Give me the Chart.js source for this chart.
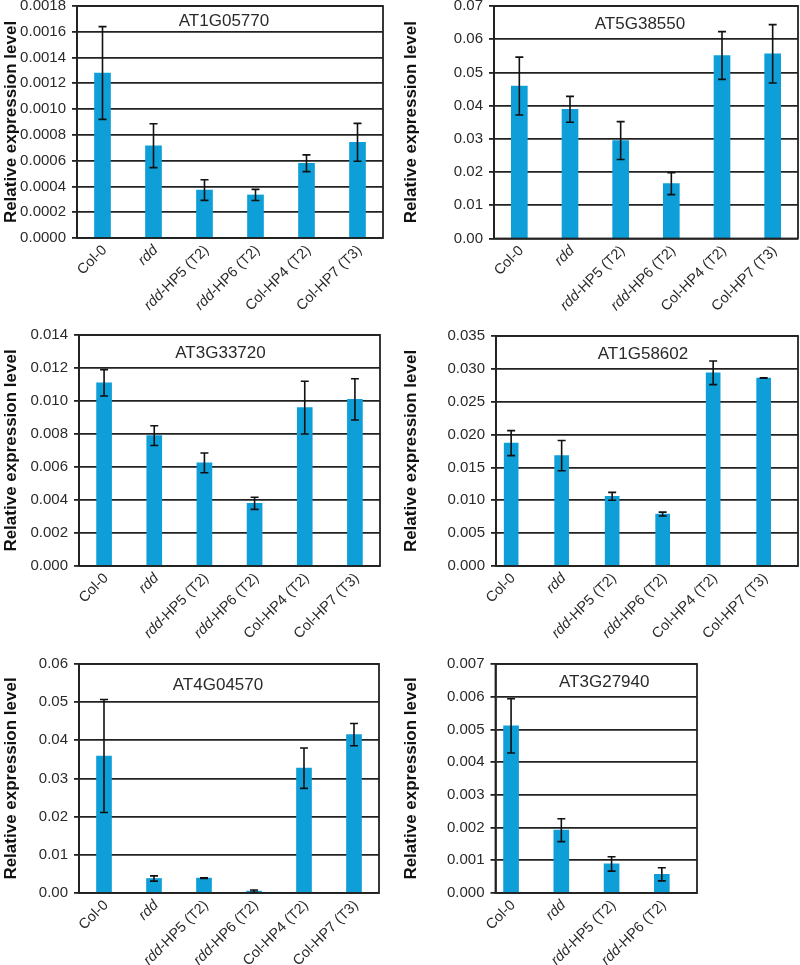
<!DOCTYPE html>
<html>
<head>
<meta charset="utf-8">
<script src="https://cdn.jsdelivr.net/npm/chart.js@4.4.1/dist/chart.umd.min.js"></script>
<style>
  html, body { margin: 0; padding: 0; background: #ffffff; }
  body { width: 800px; height: 965px; position: relative; overflow: hidden; }
  canvas { position: absolute; }
</style>
</head>
<body>
<script>
// ---------------- DATA ----------------
const categories6 = ['Col-0', 'rdd', 'rdd-HP5 (T2)', 'rdd-HP6 (T2)', 'Col-HP4 (T2)', 'Col-HP7 (T3)'];
const categories4 = ['Col-0', 'rdd', 'rdd-HP5 (T2)', 'rdd-HP6 (T2)'];
const italicPrefix = 'rdd';

const genes = ['AT1G05770', 'AT5G38550', 'AT3G33720', 'AT1G58602', 'AT4G04570', 'AT3G27940'];

const at1g05770    = [0.00128, 0.000716, 0.000372, 0.000334, 0.00058, 0.000742];
const at1g05770Err = [0.00036, 0.00017, 0.00008, 0.000043, 0.000065, 0.000147];

const at5g38550    = [0.0459, 0.0389, 0.0295, 0.0165, 0.0551, 0.0556];
const at5g38550Err = [0.0087, 0.0039, 0.0057, 0.0033, 0.0072, 0.0088];

const at3g33720    = [0.0111, 0.0079, 0.00625, 0.0038, 0.0096, 0.0101];
const at3g33720Err = [0.0008, 0.0006, 0.0006, 0.00037, 0.0016, 0.00125];

const at1g58602    = [0.0187, 0.0168, 0.0106, 0.0079, 0.0294, 0.0286];
const at1g58602Err = [0.0019, 0.0023, 0.0006, 0.0003, 0.0018, 0.00003];

const at4g04570    = [0.0359, 0.0038, 0.0039, 0.0005, 0.0327, 0.0415];
const at4g04570Err = [0.0148, 0.0007, 0.0001, 0.0003, 0.0053, 0.0029];

const at3g27940    = [0.00511, 0.00192, 0.00089, 0.00057];
const at3g27940Err = [0.00083, 0.00035, 0.00022, 0.0002];

// y axis: [max, step, decimals]
const yAxis1 = [0.0018, 0.0002, 4];
const yAxis2 = [0.07, 0.01, 2];
const yAxis3 = [0.014, 0.002, 3];
const yAxis4 = [0.035, 0.005, 3];
const yAxis5 = [0.06, 0.01, 2];
const yAxis6 = [0.007, 0.001, 3];

// ---------------- LAYOUT / STYLE ----------------
const FONT = '"Liberation Sans", Arial, Helvetica, sans-serif';
const BAR_COLOR = '#0e9fd9';
const LINE_COLOR = '#222222';
const TEXT_COLOR = '#2a2a2a';

const panels = [
  { gene: genes[0], cats: categories6, values: at1g05770, errors: at1g05770Err, y: yAxis1,
    box: [0, -12, 400, 332], area: [77, 6, 383, 238], xRange: [-0.5, 5.5], bar: 16, titleDx: -6 },
  { gene: genes[1], cats: categories6, values: at5g38550, errors: at5g38550Err, y: yAxis2,
    box: [400, -12, 400, 332], area: [494, 6, 798, 238.5], xRange: [-0.5, 5.5], bar: 16, titleDx: -6 },
  { gene: genes[2], cats: categories6, values: at3g33720, errors: at3g33720Err, y: yAxis3,
    box: [0, 320, 400, 320], area: [79, 335, 380, 566], xRange: [-0.5, 5.5], bar: 15, titleDx: -9 },
  { gene: genes[3], cats: categories6, values: at1g58602, errors: at1g58602Err, y: yAxis4,
    box: [400, 320, 400, 320], area: [496, 336, 798, 566], xRange: [-0.3, 5.68], bar: 14, titleDx: -4 },
  { gene: genes[4], cats: categories6, values: at4g04570, errors: at4g04570Err, y: yAxis5,
    box: [0, 640, 400, 325], area: [79, 664, 379, 893], xRange: [-0.5, 5.5], bar: 15, titleDx: -11 },
  { gene: genes[5], cats: categories4, values: at3g27940, errors: at3g27940Err, y: yAxis6,
    box: [400, 640, 400, 325], area: [495.5, 664, 697, 893], xRange: [-0.31, 3.7], bar: 15, titleDx: 8 }
];

// ---------------- PLUGINS ----------------
const errorBarPlugin = {
  id: 'errorBars',
  afterDatasetsDraw(chart, args, opts) {
    const { ctx } = chart;
    const xs = chart.scales.x, ys = chart.scales.y;
    const vals = opts.values, errs = opts.errors;
    ctx.save();
    ctx.strokeStyle = '#111';
    ctx.lineWidth = 1.6;
    for (let i = 0; i < vals.length; i++) {
      const x = xs.getPixelForValue(i);
      const yt = ys.getPixelForValue(vals[i] + errs[i]);
      const yb = ys.getPixelForValue(Math.max(0, vals[i] - errs[i]));
      ctx.beginPath();
      ctx.moveTo(x, yt); ctx.lineTo(x, yb);
      ctx.moveTo(x - 4, yt); ctx.lineTo(x + 4, yt);
      ctx.moveTo(x - 4, yb); ctx.lineTo(x + 4, yb);
      ctx.stroke();
    }
    ctx.restore();
  }
};

const frameTitlePlugin = {
  id: 'frameTitle',
  afterDraw(chart, args, opts) {
    const { ctx, chartArea: a } = chart;
    const ys = chart.scales.y;
    ctx.save();
    ctx.strokeStyle = LINE_COLOR;
    ctx.lineWidth = 1.8;
    ctx.strokeRect(a.left, a.top, a.right - a.left, a.bottom - a.top);
    const firstGrid = ys.getPixelForValue(opts.max - opts.step);
    ctx.fillStyle = TEXT_COLOR;
    ctx.font = '17px ' + FONT;
    ctx.textAlign = 'center';
    ctx.textBaseline = 'middle';
    ctx.fillText(opts.text, (a.left + a.right) / 2 + opts.dx, (a.top + firstGrid) / 2 + 2);
    ctx.restore();
  }
};

const xLabelPlugin = {
  id: 'xLabels',
  afterDraw(chart, args, opts) {
    const { ctx, chartArea: a } = chart;
    const xs = chart.scales.x;
    ctx.save();
    ctx.fillStyle = TEXT_COLOR;
    ctx.textBaseline = 'middle';
    ctx.textAlign = 'left';
    const normal = '14.5px ' + FONT;
    const italic = 'italic 14.5px ' + FONT;
    opts.labels.forEach((lab, i) => {
      const segs = lab.startsWith(italicPrefix)
        ? [[italicPrefix, italic], [lab.slice(italicPrefix.length), normal]]
        : [[lab, normal]];
      let total = 0;
      segs.forEach(s => { ctx.font = s[1]; total += ctx.measureText(s[0]).width; });
      const x = xs.getPixelForValue(i) + 2;
      const y = a.bottom + 10;
      ctx.save();
      ctx.translate(x, y);
      ctx.rotate(-Math.PI / 4);
      let cx = -total;
      segs.forEach(s => { ctx.font = s[1]; ctx.fillText(s[0], cx, 0); cx += ctx.measureText(s[0]).width; });
      ctx.restore();
    });
    ctx.restore();
  }
};

// ---------------- BUILD ----------------
panels.forEach(p => {
  const [bx, by, bw, bh] = p.box;
  const [al, at, ar, ab] = p.area;
  const cv = document.createElement('canvas');
  cv.width = bw; cv.height = bh;
  cv.style.left = bx + 'px'; cv.style.top = by + 'px';
  cv.style.width = bw + 'px'; cv.style.height = bh + 'px';
  document.body.appendChild(cv);

  const [yMax, yStep, dec] = p.y;
  const nTicks = Math.round(yMax / yStep);

  new Chart(cv, {
    type: 'bar',
    data: {
      datasets: [{
        data: p.values.map((v, i) => ({ x: i, y: v })),
        backgroundColor: BAR_COLOR,
        borderWidth: 0,
        barThickness: p.bar
      }]
    },
    options: {
      responsive: false,
      animation: false,
      devicePixelRatio: 1,
      layout: { padding: { left: 0, top: at - by, right: bx + bw - ar, bottom: 0 } },
      plugins: {
        legend: { display: false },
        tooltip: { enabled: false },
        errorBars: { values: p.values, errors: p.errors },
        frameTitle: { text: p.gene, dx: p.titleDx, max: yMax, step: yStep },
        xLabels: { labels: p.cats }
      },
      scales: {
        x: {
          type: 'linear',
          offset: false,
          min: p.xRange[0],
          max: p.xRange[1],
          grid: { display: false, drawTicks: false },
          border: { display: false },
          ticks: { display: false },
          afterFit(s) { s.height = by + bh - ab; s.paddingLeft = 0; s.paddingRight = 0; }
        },
        y: {
          min: 0,
          max: yMax,
          afterBuildTicks(s) {
            const t = [];
            for (let k = 0; k <= nTicks; k++) t.push({ value: +(k * yStep).toFixed(dec + 2) });
            s.ticks = t;
          },
          grid: { color: LINE_COLOR, lineWidth: 1.8, drawTicks: true, tickLength: 5, tickColor: LINE_COLOR },
          border: { display: true, color: LINE_COLOR, width: 1.8 },
          ticks: {
            color: TEXT_COLOR,
            font: { family: FONT, size: 15 },
            padding: 6,
            callback: v => Number(v).toFixed(dec)
          },
          title: {
            display: true,
            text: 'Relative expression level',
            color: '#111',
            font: { family: FONT, size: 17, weight: 'bold' },
            padding: { top: 1, bottom: 0 }
          },
          afterFit(s) { s.width = al - bx; s.paddingTop = 0; s.paddingBottom = 0; }
        }
      }
    },
    plugins: [errorBarPlugin, frameTitlePlugin, xLabelPlugin]
  });
});
</script>
</body>
</html>
